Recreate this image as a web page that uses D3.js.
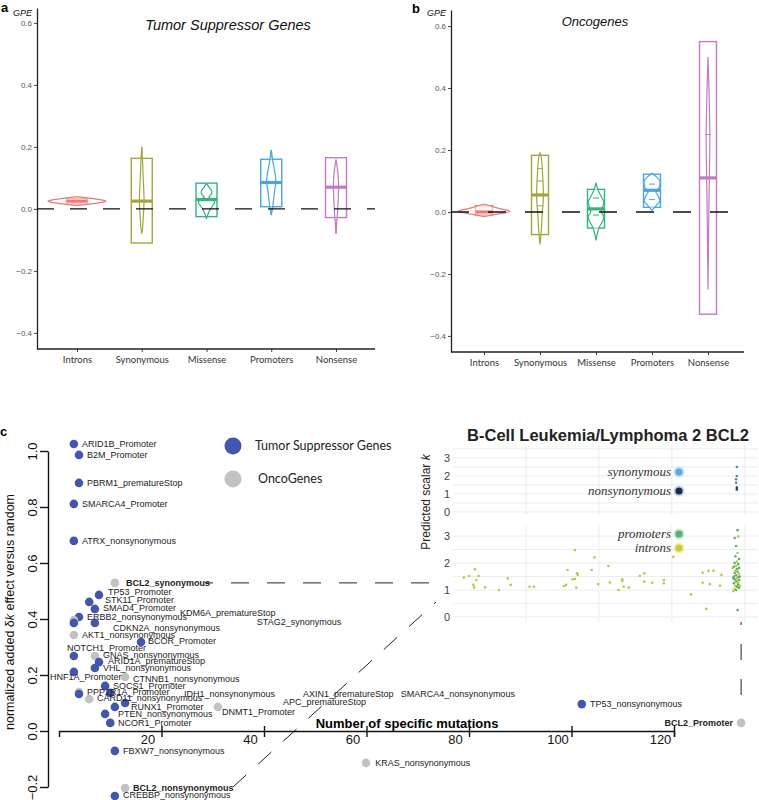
<!DOCTYPE html>
<html>
<head>
<meta charset="utf-8">
<script src="https://cdn.jsdelivr.net/npm/d3@7"></script>
<style>
  body { margin: 0; background: #fff; }
  svg { display: block; }
</style>
</head>
<body>
<div id="chart"></div>
<script>
// ---------- data ----------
var categories = ["Introns", "Synonymous", "Missense", "Promoters", "Nonsense"];
var gpeTicks = [-0.4, -0.2, 0.0, 0.2, 0.4, 0.6];

// box stats per category: [q1, median, q3, whisker low, whisker high]
var tsgBoxes = [
  [0.016, 0.025, 0.034, 0.016, 0.034],
  [-0.11, 0.025, 0.163, -0.11, 0.2],
  [-0.025, 0.03, 0.083, -0.025, 0.083],
  [0.007, 0.085, 0.16, -0.02, 0.19],
  [-0.028, 0.07, 0.165, -0.08, 0.165]
];
// violin outlines per category: [GPE value, relative density]
var tsgViolins = [
  [[0.011, 0.03], [0.016, 0.5], [0.021, 0.85], [0.025, 1.0], [0.029, 0.85], [0.034, 0.5], [0.039, 0.05]],
  [[-0.08, 0], [-0.06, 0.03], [-0.03, 0.05], [0.0, 0.07], [0.03, 0.08], [0.06, 0.07], [0.1, 0.05], [0.15, 0.03], [0.2, 0]],
  [[-0.03, 0], [-0.015, 0.06], [0.0, 0.14], [0.01, 0.21], [0.02, 0.28], [0.03, 0.22], [0.038, 0.08], [0.048, 0.17], [0.058, 0.18], [0.068, 0.1], [0.08, 0.02]],
  [[-0.02, 0], [0.0, 0.04], [0.03, 0.08], [0.06, 0.12], [0.09, 0.16], [0.12, 0.12], [0.15, 0.06], [0.17, 0.03], [0.19, 0]],
  [[-0.08, 0], [-0.04, 0.03], [0.0, 0.06], [0.04, 0.08], [0.08, 0.09], [0.12, 0.06], [0.16, 0]]
];

var oncBoxes = [
  [-0.01, 0.0, 0.02, -0.01, 0.02],
  [-0.073, 0.055, 0.183, -0.073, 0.19],
  [-0.052, 0.01, 0.073, -0.052, 0.073],
  [0.015, 0.07, 0.122, 0.015, 0.122],
  [-0.33, 0.11, 0.55, -0.33, 0.55]
];
var oncViolins = [
  [[-0.014, 0.05], [-0.008, 0.45], [0.002, 1.0], [0.01, 0.65], [0.018, 0.3], [0.025, 0.05]],
  [[-0.105, 0], [-0.07, 0.04], [-0.03, 0.07], [0.0, 0.09], [0.03, 0.12], [0.06, 0.13], [0.09, 0.12], [0.12, 0.1], [0.15, 0.08], [0.18, 0.04], [0.19, 0]],
  [[-0.092, 0], [-0.07, 0.05], [-0.05, 0.12], [-0.03, 0.25], [-0.015, 0.3], [0.0, 0.2], [0.01, 0.22], [0.03, 0.3], [0.05, 0.2], [0.07, 0.08], [0.095, 0]],
  [[0.005, 0], [0.02, 0.15], [0.035, 0.3], [0.05, 0.25], [0.065, 0.15], [0.08, 0.28], [0.1, 0.3], [0.115, 0.15], [0.125, 0]],
  [[-0.25, 0], [-0.1, 0.02], [0.05, 0.04], [0.15, 0.06], [0.25, 0.07], [0.35, 0.05], [0.45, 0.02], [0.5, 0]]
];
var oncQuantiles = [[], [0.02, 0.1, 0.14], [-0.01, 0.045], [0.04, 0.09], [0.25]];

// panel c: genes (mutations, normalized added dk effect)
var geneGroups = ["Tumor Suppressor Genes", "OncoGenes"];
var genePoints = [
  { gene: "ARID1B_Promoter", group: 0, n: 2.9, effect: 1.025 },
  { gene: "B2M_Promoter", group: 0, n: 3.9, effect: 0.986 },
  { gene: "PBRM1_prematureStop", group: 0, n: 3.9, effect: 0.886 },
  { gene: "SMARCA4_Promoter", group: 0, n: 2.9, effect: 0.811 },
  { gene: "ATRX_nonsynonymous", group: 0, n: 2.9, effect: 0.679 },
  { gene: "BCL2_synonymous", group: 1, n: 10.9, effect: 0.529 },
  { gene: "TP53_Promoter", group: 0, n: 7.8, effect: 0.486 },
  { gene: "STK11_Promoter", group: 0, n: 5.9, effect: 0.461 },
  { gene: "SMAD4_Promoter", group: 0, n: 7.0, effect: 0.436 },
  { gene: "ERBB2_nonsynonymous", group: 0, n: 3.9, effect: 0.407 },
  { gene: "KDM6A_prematureStop", group: 1, n: 2.9, effect: 0.396 },
  { gene: "STAG2_synonymous", group: 0, n: 2.9, effect: 0.386 },
  { gene: "CDKN2A_nonsynonymous", group: 0, n: 7.0, effect: 0.386 },
  { gene: "AKT1_nonsynonymous", group: 1, n: 2.9, effect: 0.343 },
  { gene: "BCOR_Promoter", group: 0, n: 16.0, effect: 0.318 },
  { gene: "NOTCH1_Promoter", group: 0, n: 2.9, effect: 0.268 },
  { gene: "GNAS_nonsynonymous", group: 1, n: 7.0, effect: 0.268 },
  { gene: "ARID1A_prematureStop", group: 0, n: 7.8, effect: 0.246 },
  { gene: "VHL_nonsynonymous", group: 0, n: 7.0, effect: 0.225 },
  { gene: "HNF1A_Promoter", group: 0, n: 2.9, effect: 0.211 },
  { gene: "CTNNB1_nonsynonymous", group: 1, n: 12.9, effect: 0.193 },
  { gene: "SOCS1_Promoter", group: 0, n: 9.0, effect: 0.161 },
  { gene: "IDH1_nonsynonymous", group: 1, n: 3.9, effect: 0.139 },
  { gene: "PPP2R1A_Promoter", group: 0, n: 3.9, effect: 0.132 },
  { gene: "CARD11_nonsynonymous", group: 1, n: 5.9, effect: 0.114 },
  { gene: "AXIN1_prematureStop", group: 0, n: 10.0, effect: 0.136 },
  { gene: "APC_prematureStop", group: 0, n: 12.9, effect: 0.1 },
  { gene: "RUNX1_Promoter", group: 0, n: 10.9, effect: 0.086 },
  { gene: "PTEN_nonsynonymous", group: 0, n: 9.0, effect: 0.061 },
  { gene: "NCOR1_Promoter", group: 0, n: 10.0, effect: 0.029 },
  { gene: "DNMT1_Promoter", group: 1, n: 31.0, effect: 0.086 },
  { gene: "FBXW7_nonsynonymous", group: 0, n: 10.9, effect: -0.071 },
  { gene: "BCL2_nonsynonymous", group: 1, n: 12.9, effect: -0.204 },
  { gene: "CREBBP_nonsynonymous", group: 0, n: 10.9, effect: -0.232 },
  { gene: "KRAS_nonsynonymous", group: 1, n: 59.9, effect: -0.114 },
  { gene: "TP53_nonsynonymous", group: 0, n: 102.0, effect: 0.096 },
  { gene: "BCL2_Promoter", group: 1, n: 133.1, effect: 0.029 }
];
// label anchors in data units (left edge / vertical centre of each text)
var geneLabels = [
  { text: "ARID1B_Promoter", n: 4.49, effect: 1.025 },
  { text: "B2M_Promoter", n: 5.46, effect: 0.986 },
  { text: "PBRM1_prematureStop", n: 5.46, effect: 0.886 },
  { text: "SMARCA4_Promoter", n: 4.49, effect: 0.811 },
  { text: "ATRX_nonsynonymous", n: 4.49, effect: 0.679 },
  { text: "BCL2_synonymous", n: 13.07, effect: 0.529, bold: true },
  { text: "TP53_Promoter", n: 9.56, effect: 0.496 },
  { text: "STK11_Promoter", n: 8.98, effect: 0.468 },
  { text: "SMAD4_Promoter", n: 8.59, effect: 0.439 },
  { text: "ERBB2_nonsynonymous", n: 5.46, effect: 0.407 },
  { text: "KDM6A_prematureStop", n: 23.6, effect: 0.421 },
  { text: "STAG2_synonymous", n: 38.6, effect: 0.389 },
  { text: "CDKN2A_nonsynonymous", n: 10.54, effect: 0.368 },
  { text: "AKT1_nonsynonymous", n: 4.49, effect: 0.343 },
  { text: "BCOR_Promoter", n: 17.37, effect: 0.321 },
  { text: "NOTCH1_Promoter", n: 1.56, effect: 0.296 },
  { text: "GNAS_nonsynonymous", n: 8.59, effect: 0.271 },
  { text: "ARID1A_prematureStop", n: 9.56, effect: 0.25 },
  { text: "VHL_nonsynonymous", n: 8.59, effect: 0.225 },
  { text: "HNF1A_Promoter", n: -1.76, effect: 0.193 },
  { text: "CTNNB1_nonsynonymous", n: 14.44, effect: 0.186 },
  { text: "SOCS1_Promoter", n: 10.54, effect: 0.161 },
  { text: "PPP2R1A_Promoter", n: 5.46, effect: 0.139 },
  { text: "IDH1_nonsynonymous", n: 24.39, effect: 0.132 },
  { text: "AXIN1_prematureStop", n: 47.6, effect: 0.132 },
  { text: "SMARCA4_nonsynonymous", n: 66.7, effect: 0.132 },
  { text: "CARD11_nonsynonymous", n: 7.41, effect: 0.118 },
  { text: "APC_prematureStop", n: 43.7, effect: 0.104 },
  { text: "RUNX1_Promoter", n: 14.05, effect: 0.086 },
  { text: "DNMT1_Promoter", n: 31.8, effect: 0.068 },
  { text: "PTEN_nonsynonymous", n: 11.51, effect: 0.061 },
  { text: "NCOR1_Promoter", n: 11.51, effect: 0.029 },
  { text: "FBXW7_nonsynonymous", n: 12.49, effect: -0.071 },
  { text: "BCL2_nonsynonymous", n: 14.44, effect: -0.204, bold: true },
  { text: "CREBBP_nonsynonymous", n: 12.49, effect: -0.229 },
  { text: "KRAS_nonsynonymous", n: 61.7, effect: -0.114 },
  { text: "TP53_nonsynonymous", n: 103.6, effect: 0.096 },
  { text: "BCL2_Promoter", n: 131.5, effect: 0.029, bold: true, end: true }
];
var mutationTicks = [20, 40, 60, 80, 100, 120];
var effectTicks = [-0.2, 0.0, 0.2, 0.4, 0.6, 0.8, 1.0];

// inset: predicted scalar k along BCL2
var codingTypes = ["synonymous", "nonsynonymous"];
var codingPoints = [
  [3.89, 2.5, 0], [3.89, 2.0, 0], [3.88, 1.82, 0], [3.88, 1.62, 0], [3.89, 1.35, 1], [3.89, 1.25, 1]
];
var noncodingTypes = ["promoters", "introns"];
var noncodingPoints = [
  [0.15, 1.46, 1], [0.22, 1.52, 1], [0.30, 1.77, 1], [0.32, 1.37, 1], [0.35, 1.52, 1], [0.28, 1.19, 1],
  [0.29, 1.09, 1], [0.44, 1.10, 1], [0.63, 1.00, 1], [0.75, 1.43, 1], [0.79, 1.19, 1], [1.05, 1.12, 1],
  [1.11, 1.12, 1], [1.52, 1.15, 1], [1.55, 1.19, 1], [1.57, 1.74, 1], [1.64, 1.40, 1], [1.67, 1.42, 1],
  [1.67, 2.48, 1], [1.70, 1.62, 1], [1.71, 1.56, 1], [1.69, 1.09, 1], [1.90, 1.74, 1], [1.94, 2.21, 1],
  [1.99, 1.22, 1], [2.13, 1.89, 1], [2.15, 1.28, 1], [2.27, 1.00, 1], [2.32, 1.40, 1], [2.32, 1.33, 1],
  [2.34, 1.12, 1], [2.41, 1.09, 1], [2.56, 1.53, 1], [2.62, 1.62, 1], [2.62, 1.31, 1], [2.73, 1.27, 1],
  [2.89, 1.37, 1], [2.89, 1.25, 1], [3.02, 2.23, 1], [3.26, 0.84, 1], [3.42, 1.64, 1], [3.42, 1.27, 1],
  [3.47, 0.30, 1], [3.50, 1.71, 1], [3.52, 1.22, 1], [3.57, 1.71, 1], [3.66, 1.16, 1], [3.68, 1.56, 1],
  [3.90, 3.22, 0], [3.86, 2.93, 0], [3.91, 2.98, 1], [3.88, 2.63, 0], [3.90, 2.37, 1], [3.87, 2.25, 0],
  [3.92, 2.15, 0], [3.89, 2.06, 1], [3.86, 2.00, 0], [3.91, 1.96, 0], [3.88, 1.90, 1], [3.85, 1.86, 0],
  [3.92, 1.82, 0], [3.89, 1.78, 0], [3.87, 1.72, 1], [3.90, 1.68, 0], [3.86, 1.63, 0], [3.92, 1.60, 1],
  [3.88, 1.55, 0], [3.85, 1.50, 0], [3.91, 1.47, 0], [3.89, 1.43, 1], [3.86, 1.40, 0], [3.92, 1.36, 0],
  [3.88, 1.32, 0], [3.90, 1.28, 1], [3.85, 1.25, 0], [3.91, 1.20, 0], [3.87, 1.16, 1], [3.89, 1.12, 0],
  [3.92, 1.08, 0], [3.86, 1.04, 1], [3.88, 1.00, 0], [3.84, 0.96, 1], [3.90, 0.26, 0], [3.83, 1.82, 1],
  [3.84, 1.45, 0], [3.93, 1.50, 0], [3.93, 1.15, 1]
];
var scalarTicks = [0, 1, 2, 3];

// ---------- styles ----------
var catColors = ["#EC7B78", "#A5A43C", "#35B37E", "#4AA6DA", "#C27BC0"];
var groupColors = ["#4356AE", "#C2C2C2"];
var codingColors = ["#3E8FCB", "#1E3A66"];
var noncodingColors = ["#5DAE5E", "#B6C746"];
var sans = "'Liberation Sans', Arial, sans-serif";

var svg = d3.select("#chart").append("svg")
  .attr("width", 759).attr("height", 800)
  .style("font-family", sans);

// ---------- panels a / b ----------
function boxPanel(o) {
  var g = svg.append("g");
  var x = d3.scalePoint().domain(categories).range(o.xRange);
  var y = d3.scaleLinear().domain(o.yDomain).range(o.yRange);
  var w = d3.scaleLinear().domain([0, 1]).range([0, o.vioWidth]);

  var ya = g.append("g").attr("transform", "translate(" + o.axisX + ",0)")
    .call(d3.axisLeft(y).tickValues(gpeTicks).tickSize(3).tickSizeOuter(0).tickFormat(d3.format(".1f")));
  ya.select(".domain").attr("stroke", "#222").attr("stroke-width", 1.3);
  ya.selectAll(".tick line").attr("stroke", "#444");
  ya.selectAll(".tick text").attr("fill", "#555").style("font-size", "8px").style("font-family", sans).attr("x", -5);

  var xa = g.append("g").attr("transform", "translate(0," + o.yRange[0] + ")")
    .call(d3.axisBottom(x).tickSize(3).tickSizeOuter(0));
  xa.select(".domain").remove();
  xa.selectAll(".tick line").attr("stroke", "#444");
  xa.selectAll(".tick text").style("font-family", "Lato, sans-serif").style("font-size", "9.5px")
    .attr("fill", "#333").attr("y", 7);
  g.append("line").attr("x1", o.axisX).attr("x2", o.axisEnd)
    .attr("y1", o.yRange[0]).attr("y2", o.yRange[0])
    .attr("stroke", "#222").attr("stroke-width", 1.3);

  var area = function (cx) {
    return d3.area().curve(d3.curveCatmullRom)
      .y(function (d) { return y(d[0]); })
      .x0(function (d) { return cx - w(d[1]); })
      .x1(function (d) { return cx + w(d[1]); });
  };

  categories.forEach(function (c, i) {
    var cx = x(c), b = o.boxes[i], col = catColors[i];
    g.append("rect")
      .attr("x", cx - o.boxWidth / 2).attr("y", y(b[2]))
      .attr("width", o.boxWidth).attr("height", y(b[0]) - y(b[2]))
      .attr("fill", "none").attr("stroke", col).attr("stroke-width", 1.4);
    g.append("line").attr("x1", cx).attr("x2", cx).attr("y1", y(b[2])).attr("y2", y(b[4]))
      .attr("stroke", col).attr("stroke-width", 1.4);
    g.append("line").attr("x1", cx).attr("x2", cx).attr("y1", y(b[0])).attr("y2", y(b[3]))
      .attr("stroke", col).attr("stroke-width", 1.4);
    g.append("path").datum(o.violins[i]).attr("d", area(cx))
      .attr("fill", "#fff").attr("fill-opacity", 0.5)
      .attr("stroke", col).attr("stroke-width", 1.2);
    (o.quantiles ? o.quantiles[i] : []).forEach(function (q) {
      g.append("line").attr("x1", cx - 3).attr("x2", cx + 3).attr("y1", y(q)).attr("y2", y(q))
        .attr("stroke", col).attr("stroke-width", 1);
    });
    g.append("line").attr("x1", cx - o.boxWidth / 2).attr("x2", cx + o.boxWidth / 2)
      .attr("y1", y(b[1])).attr("y2", y(b[1]))
      .attr("stroke", col).attr("stroke-width", 3.2);
  });

  g.append("line").attr("x1", o.axisX).attr("x2", o.axisEnd)
    .attr("y1", y(0)).attr("y2", y(0))
    .attr("stroke", "#111").attr("stroke-width", 1.3).attr("stroke-dasharray", o.dash);

  g.append("text").attr("x", o.titleX).attr("y", o.titleY).attr("text-anchor", "middle")
    .style("font-style", "italic").style("font-size", o.titleSize).attr("fill", "#111").text(o.title);
  g.append("text").attr("x", o.gpeX).attr("y", 16).style("font-style", "italic")
    .style("font-size", "9px").attr("fill", "#111").text("GPE");
  g.append("text").attr("x", o.letterX).attr("y", o.letterY).style("font-weight", "bold")
    .style("font-size", "13px").attr("fill", "#000").text(o.letter);
}

boxPanel({
  boxes: tsgBoxes, violins: tsgViolins, xRange: [77, 336], yDomain: [-0.452, 0.648], yRange: [349, 8],
  axisX: 37, axisEnd: 375, vioWidth: 29, boxWidth: 21, dash: "17,16",
  title: "Tumor Suppressor Genes", titleX: 228, titleY: 30, titleSize: "14.5px",
  gpeX: 13, letter: "a", letterX: 1, letterY: 12
});
boxPanel({
  boxes: oncBoxes, violins: oncViolins, quantiles: oncQuantiles, xRange: [484, 708], yDomain: [-0.452, 0.652], yRange: [352, 10],
  axisX: 451, axisEnd: 744, vioWidth: 26, boxWidth: 17, dash: "18,19",
  title: "Oncogenes", titleX: 595, titleY: 26, titleSize: "13px",
  gpeX: 427, letter: "b", letterX: 412, letterY: 13
});

// ---------- panel c ----------
var gc = svg.append("g");
var xC = d3.scaleLinear().domain([0, 120]).range([59, 674]);
var yC = d3.scaleLinear().domain([-0.2, 1.0]).range([787, 451]);

gc.append("text").attr("x", 0).attr("y", 436).style("font-weight", "bold").style("font-size", "13px").text("c");

var yAx = gc.append("g").attr("transform", "translate(48,0)")
  .call(d3.axisLeft(yC).tickValues(effectTicks).tickSize(8).tickSizeOuter(0).tickFormat(d3.format(".1f")));
yAx.select(".domain").attr("stroke", "#111").attr("stroke-width", 1.4);
yAx.selectAll(".tick line").attr("stroke", "#111").attr("stroke-width", 1.4);
yAx.selectAll(".tick text").attr("transform", "rotate(-90)").attr("x", 0).attr("y", -11).attr("dy", 0)
  .attr("text-anchor", "middle").style("font-size", "13px").style("font-family", sans).attr("fill", "#111");

var xAx = gc.append("g").attr("transform", "translate(0," + yC(0) + ")")
  .call(d3.axisBottom(xC).tickValues(mutationTicks).tickSizeInner(6).tickSizeOuter(6));
xAx.select(".domain").attr("stroke", "#111").attr("stroke-width", 1.4);
xAx.selectAll(".tick line").attr("stroke", "#111").attr("stroke-width", 1.4).attr("y1", -5);
xAx.selectAll(".tick text").attr("dx", -14).attr("y", 4).style("font-size", "13px")
  .style("font-family", sans).attr("fill", "#111");

gc.append("text").attr("x", 407).attr("y", 728).attr("text-anchor", "middle")
  .style("font-weight", "bold").style("font-size", "13px").text("Number of specific mutations");

var yl = gc.append("text").attr("transform", "translate(14,612) rotate(-90)").attr("text-anchor", "middle")
  .style("font-size", "12.5px").attr("fill", "#111");
yl.append("tspan").text("normalized added δ");
yl.append("tspan").style("font-style", "italic").text("k");
yl.append("tspan").text(" effect versus random");

// legend
geneGroups.forEach(function (name, i) {
  gc.append("circle").attr("cx", 233).attr("cy", 446 + i * 33).attr("r", 8.5).attr("fill", groupColors[i]);
  gc.append("text").attr("x", 255 + i * 3).attr("y", 450 + i * 33)
    .style("font-family", "Lato, sans-serif").style("font-size", "12.5px").attr("fill", "#222").text(name);
});

// connector dashes
gc.append("line").attr("x1", 205).attr("x2", 430).attr("y1", yC(0.529)).attr("y2", yC(0.529))
  .attr("stroke", "#222").attr("stroke-width", 1).attr("stroke-dasharray", "18,18").attr("stroke-dashoffset", 10);
gc.append("line").attr("x1", 233).attr("y1", 787).attr("x2", 436).attr("y2", 602)
  .attr("stroke", "#222").attr("stroke-width", 1).attr("stroke-dasharray", "18,16");
gc.append("line").attr("x1", xC(133.1)).attr("x2", xC(133.1)).attr("y1", 622).attr("y2", yC(0.029) - 11)
  .attr("stroke", "#222").attr("stroke-width", 1).attr("stroke-dasharray", "16,19").attr("stroke-dashoffset", 13);

// points
gc.selectAll(".gene").data(genePoints).enter().append("circle")
  .attr("class", "gene")
  .attr("cx", function (d) { return xC(d.n); })
  .attr("cy", function (d) { return yC(d.effect); })
  .attr("r", 4.3)
  .attr("fill", function (d) { return groupColors[d.group]; });

gc.selectAll(".glabel").data(geneLabels).enter().append("text")
  .attr("class", "glabel")
  .attr("x", function (d) { return xC(d.n); })
  .attr("y", function (d) { return yC(d.effect); })
  .attr("dy", "0.35em")
  .attr("text-anchor", function (d) { return d.end ? "end" : "start"; })
  .style("font-size", "9px")
  .style("font-weight", function (d) { return d.bold ? "bold" : "normal"; })
  .attr("fill", "#222")
  .text(function (d) { return d.text; });

// ---------- inset ----------
var gi = svg.append("g");
var xI = d3.scaleLinear().domain([0, 4.18]).range([453, 758]);
var yTop = d3.scaleLinear().domain([-0.17, 3.72]).range([515, 445]);
var yBot = d3.scaleLinear().domain([-0.185, 3.41]).range([622, 525]);

gi.append("text").attr("x", 608).attr("y", 441).attr("text-anchor", "middle")
  .style("font-weight", "bold").style("font-size", "16.5px").attr("fill", "#222")
  .text("B-Cell Leukemia/Lymphoma 2 BCL2");

function insetGrid(yS, hmax) {
  var hs = d3.range(0, hmax + 0.01, 0.5);
  gi.selectAll(null).data(hs).enter().append("line")
    .attr("x1", xI(0)).attr("x2", xI(4.18))
    .attr("y1", function (d) { return yS(d); }).attr("y2", function (d) { return yS(d); })
    .attr("stroke", "#ECECEC").attr("stroke-width", 1);
  gi.selectAll(null).data([1, 2, 3, 4]).enter().append("line")
    .attr("x1", function (d) { return xI(d); }).attr("x2", function (d) { return xI(d); })
    .attr("y1", yS.range()[0]).attr("y2", yS.range()[1])
    .attr("stroke", "#ECECEC").attr("stroke-width", 1);
  var ax = gi.append("g").attr("transform", "translate(" + xI(0) + ",0)")
    .call(d3.axisLeft(yS).tickValues(scalarTicks).tickSize(0).tickFormat(d3.format("d")));
  ax.select(".domain").remove();
  ax.selectAll("text").style("font-size", "11px").style("font-family", sans).attr("fill", "#444").attr("x", -3);
}
insetGrid(yTop, 3.5);
insetGrid(yBot, 3.0);

var pl = gi.append("text").attr("transform", "translate(430,502) rotate(-90)").attr("text-anchor", "middle")
  .style("font-size", "12px").attr("fill", "#222");
pl.append("tspan").text("Predicted scalar ");
pl.append("tspan").style("font-style", "italic").text("k");

gi.selectAll(null).data(noncodingPoints).enter().append("circle")
  .attr("cx", function (d) { return xI(d[0]); })
  .attr("cy", function (d) { return yBot(d[1]); })
  .attr("r", 1.3)
  .attr("fill", function (d) { return noncodingColors[d[2]]; });
gi.selectAll(null).data(codingPoints).enter().append("circle")
  .attr("cx", function (d) { return xI(d[0]); })
  .attr("cy", function (d) { return yTop(d[1]); })
  .attr("r", 1.3)
  .attr("fill", function (d) { return codingColors[d[2]]; });

function insetLegend(names, colors, halos, ys) {
  names.forEach(function (name, i) {
    gi.append("circle").attr("cx", 679).attr("cy", ys[i]).attr("r", 5.5).attr("fill", halos[i]).attr("opacity", 0.6);
    gi.append("circle").attr("cx", 679).attr("cy", ys[i]).attr("r", 3.6).attr("fill", colors[i]);
    gi.append("text").attr("x", 671).attr("y", ys[i] + 4).attr("text-anchor", "end")
      .style("font-family", "'Liberation Serif', 'DejaVu Serif', serif").style("font-style", "italic")
      .style("font-size", "13px").attr("fill", "#333").text(name);
  });
}
insetLegend(codingTypes, ["#5AAADA", "#1B2A48"], ["#A9D3EE", "#9CC0DE"], [472, 491]);
insetLegend(noncodingTypes, ["#5DAE7A", "#C9C93C"], ["#A8DCA8", "#F2E66A"], [534, 548]);
</script>
</body>
</html>
